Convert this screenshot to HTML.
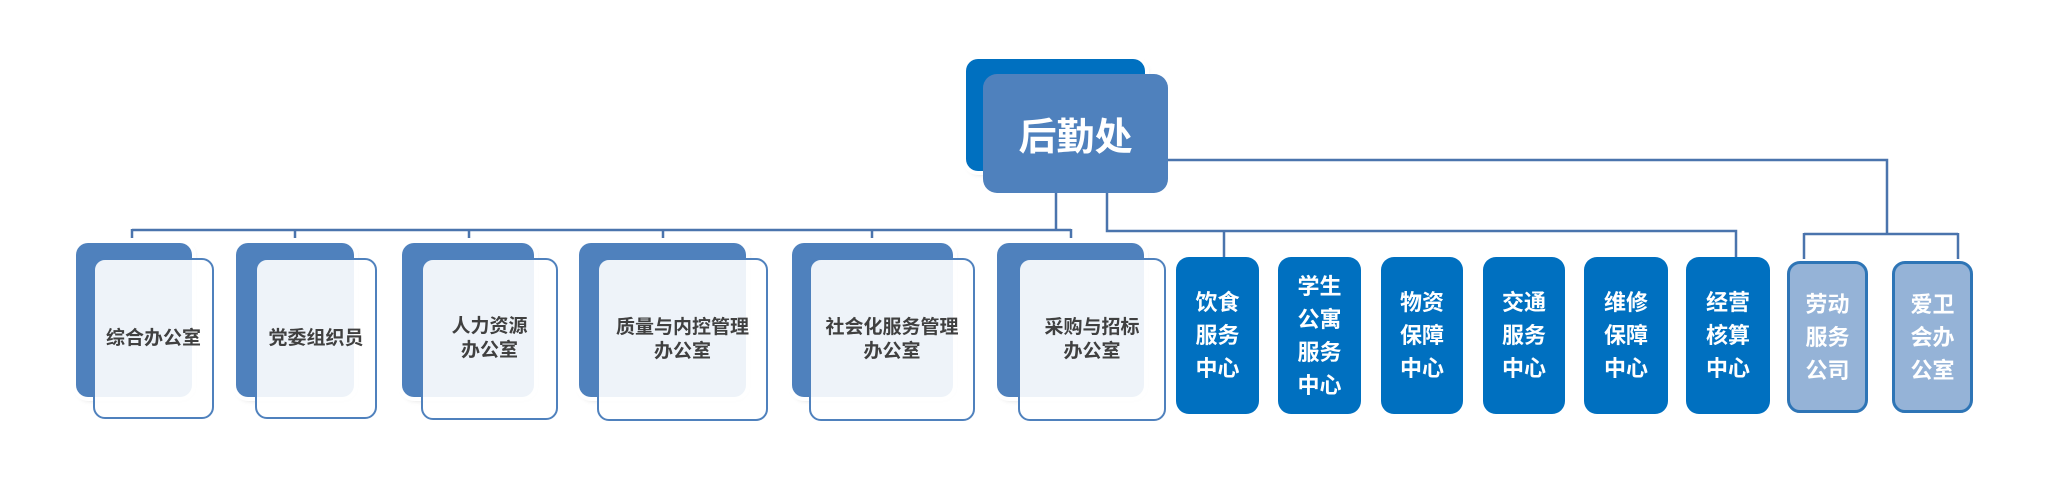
<!DOCTYPE html>
<html><head><meta charset="utf-8">
<style>
html,body{margin:0;padding:0;background:#fff;}
body{width:2048px;height:484px;position:relative;overflow:hidden;font-family:"Liberation Sans","Noto Sans CJK SC",sans-serif;font-weight:bold;}
.a{position:absolute;box-sizing:border-box;}
.back{background:#4f81bd;border-radius:12px;box-shadow:0 0 0 4px #fff,2px 3px 6px rgba(0,0,0,.18);}
.front{border:2.5px solid #4f81bd;border-radius:12px;background:rgba(255,255,255,.9);display:flex;align-items:center;justify-content:center;text-align:center;color:#404040;font-size:19px;line-height:24px;}
.blue{background:#0070c0;border-radius:13px;color:#fff;display:flex;align-items:center;justify-content:center;text-align:center;font-size:22px;line-height:33px;}
.light{background:#95b3d7;border:3px solid #2e75b6;border-radius:13px;color:#fff;display:flex;align-items:center;justify-content:center;text-align:center;font-size:22px;line-height:33px;}
</style></head><body>
<svg class="a" style="left:0;top:0" width="2048" height="484">
<g stroke="#4a74ad" stroke-width="2.5" fill="none">
<path d="M1056 193V230M132 230H1071M132 229V238M295 229V238M469 229V238M663 229V238M872 229V238M1071 229V238"/>
<path d="M1107 193V231H1736V257M1224 231V257"/>
<path d="M1168 160H1887V234M1804 234H1958M1804 233V259M1958 233V259"/>
</g></svg>

<div class="a back" style="left:966px;top:59px;width:179px;height:112px;background:#0070c0"></div>
<div class="a" style="left:983px;top:74px;width:185px;height:119px;background:#4f81bd;border-radius:14px;color:#fff;font-size:38px;display:flex;align-items:center;justify-content:center">后勤处</div>

<div class="a back" style="left:76px;top:243px;width:116px;height:154px"></div>
<div class="a front" style="left:93px;top:258px;width:121px;height:161px">综合办公室</div>
<div class="a back" style="left:236px;top:243px;width:118px;height:154px"></div>
<div class="a front" style="left:255px;top:258px;width:122px;height:161px">党委组织员</div>
<div class="a back" style="left:402px;top:243px;width:132px;height:154px"></div>
<div class="a front" style="left:421px;top:258px;width:137px;height:162px">人力资源<br>办公室</div>
<div class="a back" style="left:579px;top:243px;width:167px;height:154px"></div>
<div class="a front" style="left:597px;top:258px;width:171px;height:163px">质量与内控管理<br>办公室</div>
<div class="a back" style="left:792px;top:243px;width:161px;height:154px"></div>
<div class="a front" style="left:809px;top:258px;width:166px;height:163px">社会化服务管理<br>办公室</div>
<div class="a back" style="left:997px;top:243px;width:147px;height:154px"></div>
<div class="a front" style="left:1018px;top:258px;width:148px;height:163px">采购与招标<br>办公室</div>

<div class="a blue" style="left:1176px;top:257px;width:83px;height:157px">饮食<br>服务<br>中心</div>
<div class="a blue" style="left:1278px;top:257px;width:83px;height:157px">学生<br>公寓<br>服务<br>中心</div>
<div class="a blue" style="left:1381px;top:257px;width:82px;height:157px">物资<br>保障<br>中心</div>
<div class="a blue" style="left:1483px;top:257px;width:82px;height:157px">交通<br>服务<br>中心</div>
<div class="a blue" style="left:1584px;top:257px;width:84px;height:157px">维修<br>保障<br>中心</div>
<div class="a blue" style="left:1686px;top:257px;width:84px;height:157px">经营<br>核算<br>中心</div>
<div class="a light" style="left:1787px;top:261px;width:81px;height:152px">劳动<br>服务<br>公司</div>
<div class="a light" style="left:1892px;top:261px;width:81px;height:152px">爱卫<br>会办<br>公室</div>
</body></html>
